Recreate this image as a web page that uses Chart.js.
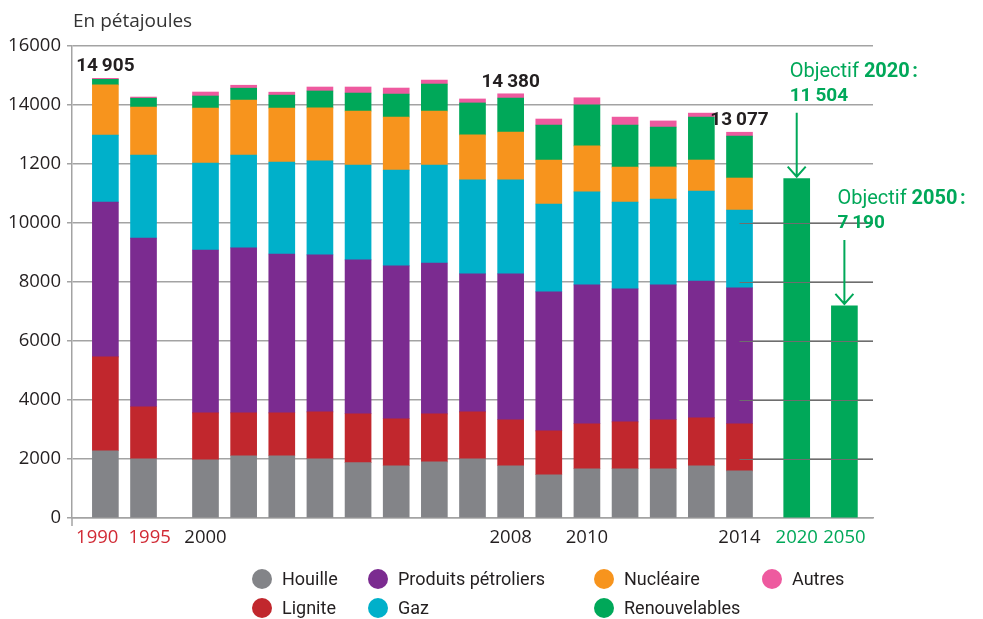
<!DOCTYPE html>
<html lang="fr">
<head>
<meta charset="utf-8">
<title>Consommation d'énergie primaire</title>
<script src="https://cdn.jsdelivr.net/npm/chart.js@4.4.1/dist/chart.umd.min.js"></script>
<style>
  html, body { margin: 0; padding: 0; background: #fff; }
  #wrap { position: relative; width: 983px; height: 619px; }
  #legend {
    position: absolute; left: 252px; top: 564px;
    display: grid; grid-auto-flow: column;
    grid-template-rows: 29px 29px;
    grid-template-columns: 116px 226px 168px auto;
    font: 18px Roboto, sans-serif; color: #231f20;
  }
  #legend .item { display: flex; align-items: center; white-space: nowrap; }
  #legend .dot { width: 20px; height: 20px; border-radius: 50%; margin-right: 10px; flex: none; }
</style>
</head>
<body>
<div id="wrap">
  <canvas id="chart"></canvas>
  <div id="legend"></div>
</div>
<script>
const years = ["1990", "1995", "2000", "2001", "2002", "2003", "2004", "2005", "2006",
               "2007", "2008", "2009", "2010", "2011", "2012", "2013", "2014"];

const houille   = [2280, 2010, 1975, 2110, 2110, 2010, 1875, 1770, 1905, 2010, 1770, 1465, 1670, 1670, 1670, 1770, 1600];
const lignite   = [3180, 1760, 1590, 1455, 1455, 1590, 1660, 1595, 1625, 1590, 1560, 1490, 1525, 1590, 1660, 1625, 1595];
const petrole   = [5250, 5720, 5520, 5590, 5385, 5320, 5215, 5180, 5115, 4675, 4945, 4710, 4710, 4505, 4570, 4640, 4605];
const gaz       = [2270, 2810, 2950, 3150, 3115, 3185, 3215, 3250, 3320, 3185, 3185, 2980, 3150, 2945, 2915, 3050, 2640];
const nucleaire = [1700, 1630, 1860, 1860, 1830, 1795, 1830, 1795, 1830, 1525, 1625, 1490, 1560, 1185, 1085, 1050, 1085];
const renouv    = [190, 300, 410, 405, 440, 575, 610, 780, 915, 1085, 1150, 1185, 1390, 1425, 1355, 1455, 1420];
const autres    = [35, 40, 135, 100, 100, 135, 205, 205, 135, 135, 145, 205, 240, 270, 205, 135, 132];

const objYears  = ["2020", "2050"];
const objValues = [11504, 7190];

const totalYears  = ["1990", "2008", "2014"];
const tickLabels  = ["2000", "2008", "2010", "2014", "2020", "2050"];
const redYears    = ["1990", "1995"];   // drawn by hand, pushed apart so they don't collide
const yTickLabels = ["0", "2000", "4000", "6000", "8000", "10000", "1200", "14000", "16000"];

const GREEN = "#00a859";
const RED   = "#d12a35";
const TICK_FONT = { family: "Open Sans", size: 18.5 };
const TICK_PAD = 9;

// broken time axis: a fine category grid, 8 sub-slots per year step,
// wider gaps where the printed axis jumps
const SUB = 8;
const gapBefore = { "1990": 8, "2000": 13, "2020": 12, "2050": 10 };
const TRAIL = 6;
const slots = [];
[...years, ...objYears].forEach(y => {
  for (let i = 1; i < (gapBefore[y] || SUB); i++) slots.push("");
  slots.push(y);
});
for (let i = 0; i < TRAIL; i++) slots.push("");

const series = [
  { label: "Houille",             data: houille,   color: "#838488" },
  { label: "Lignite",             data: lignite,   color: "#c1272d" },
  { label: "Produits pétroliers", data: petrole,   color: "#7b2b90" },
  { label: "Gaz",                 data: gaz,       color: "#00b0ca" },
  { label: "Nucléaire",           data: nucleaire, color: "#f7941d" },
  { label: "Renouvelables",       data: renouv,    color: "#00a859" },
  { label: "Autres",              data: autres,    color: "#ee5a9f" },
];

const datasets = series.map(s => ({
  label: s.label,
  data: years.map((y, i) => ({ x: y, y: s.data[i] })),
  backgroundColor: s.color,
  stack: "e",
}));
datasets.push({
  label: "Objectif",
  data: objYears.map((y, i) => ({ x: y, y: objValues[i] })),
  backgroundColor: GREEN,
  stack: "e",
});

const fmt = v => String(v).replace(/\B(?=(\d{3})+(?!\d))/g, "\u2009");

const annotations = {
  id: "annotations",
  afterDatasetsDraw(chart) {
    const { ctx, chartArea, scales: { x, y } } = chart;
    // grid lines printed over the right part of the chart
    const x0 = x.getPixelForValue(slots.indexOf("2014"));
    ctx.save();
    ctx.strokeStyle = "#6e6e6e";
    ctx.lineWidth = 1;
    y.ticks.forEach(t => {
      if (t.value === 0 || t.value > 10000) return;
      const py = Math.round(y.getPixelForValue(t.value)) + 0.5;
      ctx.beginPath();
      ctx.moveTo(x0, py);
      ctx.lineTo(chartArea.right, py);
      ctx.stroke();
    });
    ctx.restore();
  },
  afterDraw(chart) {
    const { ctx, chartArea, scales: { x, y } } = chart;
    ctx.save();

    // y axis runs a little below the x axis
    ctx.strokeStyle = "#a3a3a3";
    ctx.lineWidth = 1.5;
    ctx.beginPath();
    ctx.moveTo(chartArea.left, chartArea.bottom);
    ctx.lineTo(chartArea.left, chartArea.bottom + 8);
    ctx.stroke();

    // 1990 / 1995 labels, flush with the outer edges of their bars
    ctx.font = `${TICK_FONT.size}px "${TICK_FONT.family}"`;
    ctx.fillStyle = RED;
    ctx.textBaseline = "middle";
    const ly = chartArea.bottom + TICK_PAD + TICK_FONT.size * 0.6;
    const half = chart.options.barThickness / 2;
    ctx.textAlign = "right";
    ctx.fillText(redYears[0], x.getPixelForValue(slots.indexOf(redYears[0])) + half, ly);
    ctx.textAlign = "left";
    ctx.fillText(redYears[1], x.getPixelForValue(slots.indexOf(redYears[1])) - half - 2, ly);

    ctx.textBaseline = "alphabetic";
    ctx.fillStyle = "#333";
    ctx.textAlign = "left";
    ctx.font = '19px "Open Sans"';
    ctx.fillText("En pétajoules", 73, 27);

    // totals above selected bars
    ctx.font = "bold 19px Roboto";
    ctx.fillStyle = "#231f20";
    ctx.textAlign = "center";
    totalYears.forEach(yr => {
      const i = years.indexOf(yr);
      const tot = series.reduce((a, s) => a + s.data[i], 0);
      ctx.fillText(fmt(tot), x.getPixelForValue(slots.indexOf(yr)), y.getPixelForValue(tot) - 7);
    });

    // targets
    ctx.fillStyle = GREEN;
    ctx.strokeStyle = GREEN;
    ctx.lineWidth = 2;
    ctx.textAlign = "left";
    objYears.forEach((yr, i) => {
      const cx = x.getPixelForValue(slots.indexOf(yr));
      const top = y.getPixelForValue(objValues[i]);
      const tx = cx - 7;
      ctx.font = "20px Roboto";
      const w = ctx.measureText("Objectif ").width;
      ctx.fillText("Objectif ", tx, top - 102);
      ctx.font = "bold 20px Roboto";
      ctx.fillText(yr + "\u202F:", tx + w, top - 102);
      ctx.font = "bold 19px Roboto";
      ctx.fillText(fmt(objValues[i]), tx, top - 78);

      ctx.beginPath();
      ctx.moveTo(cx, top - 66);
      ctx.lineTo(cx, top - 2);
      ctx.moveTo(cx - 9, top - 12);
      ctx.lineTo(cx, top - 2);
      ctx.lineTo(cx + 9, top - 12);
      ctx.stroke();
    });
    ctx.restore();
  }
};

const chart = new Chart(document.getElementById("chart"), {
  type: "bar",
  data: { labels: slots, datasets },
  options: {
    responsive: true,
    maintainAspectRatio: false,
    animation: false,
    barThickness: 26,
    layout: { padding: { top: 46, right: 110, bottom: 70, left: 0 } },
    plugins: { legend: { display: false }, tooltip: { enabled: false } },
    scales: {
      x: {
        stacked: true,
        offset: false,
        grid: { display: false, drawTicks: false },
        border: { color: "#a3a3a3", width: 1.5 },
        ticks: {
          autoSkip: false,
          maxRotation: 0,
          minRotation: 0,
          padding: TICK_PAD,
          font: TICK_FONT,
          color: c => objYears.includes(slots[c.index]) ? GREEN : "#231f20",
          callback(v) {
            const l = this.getLabelForValue(v);
            return tickLabels.includes(l) ? l : "";
          },
        },
        afterFit: s => { s.height = 31; },
      },
      y: {
        stacked: true,
        min: 0,
        max: 16000,
        grid: { color: "#a3a3a3", lineWidth: 1.5, tickLength: 5 },
        border: { color: "#a3a3a3", width: 1.5 },
        ticks: {
          stepSize: 2000,
          padding: 6,
          color: "#231f20",
          font: TICK_FONT,
          callback: (v, i) => yTickLabels[i],
        },
        afterFit: s => { s.width = 72; },
      },
    },
  },
  plugins: [annotations],
});

// legend: two rows, filled column by column
document.getElementById("legend").innerHTML = series.map(s =>
  `<div class="item"><span class="dot" style="background:${s.color}"></span>${s.label}</div>`
).join("");
</script>
</body>
</html>
